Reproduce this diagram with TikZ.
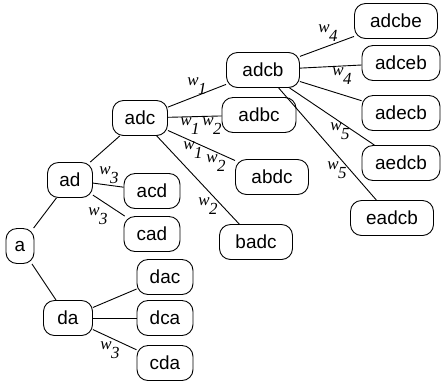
\documentclass[tikz,border=0pt]{standalone}
\usepackage{fontspec}
\setmainfont{Liberation Sans}
\newfontfamily\lblfont{Liberation Serif}
\newcommand{\wlab}[1]{\textit{w}\kern-0.5pt\raisebox{-0.5em}{\textit{#1}}}
\begin{document}
\begin{tikzpicture}[x=1bp,y=-1bp,
  box/.style={draw, line width=0.9bp, rounded corners=11bp, minimum height=35bp,
    inner sep=0pt, font=\fontsize{19}{21}\selectfont},
  edge/.style={line width=0.9bp},
  lbl/.style={inner sep=0pt, font=\lblfont\fontsize{17}{19}\selectfont}]
\path[use as bounding box] (0,0) rectangle (441,386);
\node[box, minimum width=28bp] (a) at (20,246) {a};
\node[box, minimum width=45bp] (ad) at (70,180) {ad};
\node[box, minimum width=56bp] (acd) at (152,191) {acd};
\node[box, minimum width=56bp] (cad) at (152,234) {cad};
\node[box, minimum width=55bp] (adc) at (140,118) {adc};
\node[box, minimum width=73bp] (adcb) at (263,70) {adcb};
\node[box, minimum width=74bp] (adbc) at (259,115) {adbc};
\node[box, minimum width=73bp] (abdc) at (272,177) {abdc};
\node[box, minimum width=73bp] (badc) at (256,242) {badc};
\node[box, minimum width=83bp] (adcbe) at (396,21) {adcbe};
\node[box, minimum width=78bp] (adceb) at (401,63) {adceb};
\node[box, minimum width=78bp] (adecb) at (401,113) {adecb};
\node[box, minimum width=78bp] (aedcb) at (401,163) {aedcb};
\node[box, minimum width=83bp] (eadcb) at (392,218) {eadcb};
\node[box, minimum width=49bp] (da) at (68,318) {da};
\node[box, minimum width=56bp] (dac) at (165,277) {dac};
\node[box, minimum width=56bp] (dca) at (165,318) {dca};
\node[box, minimum width=56bp] (cda) at (165,363) {cda};
\foreach \p/\c in {a/ad,a/da,ad/adc,ad/acd,ad/cad,adc/adcb,adc/adbc,adc/abdc,adc/badc,
  adcb/adcbe,adcb/adceb,adcb/adecb,adcb/aedcb,adcb/eadcb,da/dac,da/dca,da/cda}
  \draw[edge] (\p) -- (\c);
\node[lbl] (l1) at (197,86) {\wlab{1}};
\node[lbl] (l2) at (201,126) {\wlab{1}\,\wlab{2}};
\node[lbl] (l3) at (193,150) {\wlab{1}};
\node[lbl] (l4) at (216,163) {\wlab{2}};
\node[lbl] (l5) at (208,206) {\wlab{2}};
\node[lbl] (l6) at (109,175) {\wlab{3}};
\node[lbl] (l7) at (98,216) {\wlab{3}};
\node[lbl] (l8) at (110,350) {\wlab{3}};
\node[lbl] (l9) at (328,33) {\wlab{4}};
\node[lbl] (l10) at (342,76) {\wlab{4}};
\node[lbl] (l11) at (340,131) {\wlab{5}};
\node[lbl] (l12) at (337,170) {\wlab{5}};
\end{tikzpicture}
\end{document}
